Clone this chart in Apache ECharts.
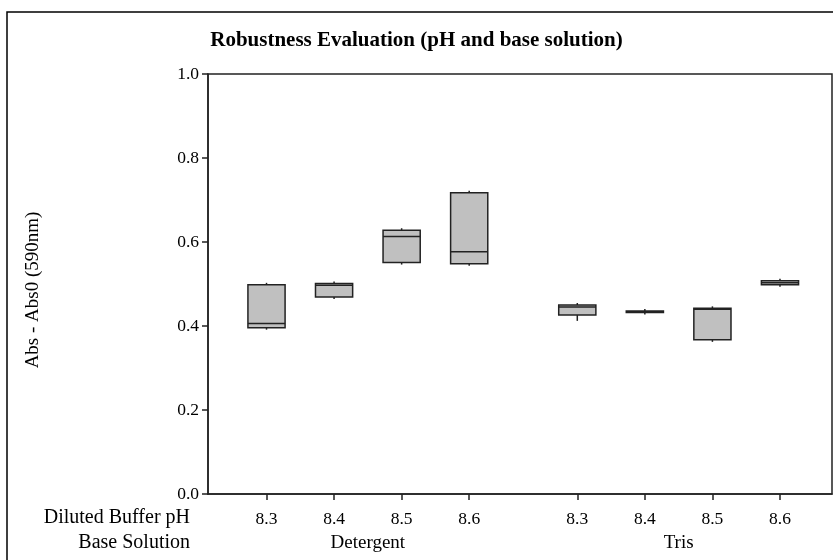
<!DOCTYPE html>
<html>
<head>
<meta charset="utf-8">
<script src="https://cdn.jsdelivr.net/npm/echarts@6/dist/echarts.min.js"></script>
<style>html,body{margin:0;padding:0;background:#fff;}#c{width:833px;height:560px;}</style>
</head>
<body>
<div id="c"></div>
<script>
const categories = ['8.3', '8.4', '8.5', '8.6'];
const groups = ['Detergent', 'Tris'];

const detergentLow    = [0.396, 0.469, 0.551, 0.548];
const detergentQ1     = [0.396, 0.469, 0.551, 0.548];
const detergentMedian = [0.406, 0.497, 0.613, 0.577];
const detergentQ3     = [0.498, 0.501, 0.628, 0.717];
const detergentHigh   = [0.498, 0.501, 0.628, 0.717];

const trisLow    = [0.417, 0.432, 0.367, 0.498];
const trisQ1     = [0.426, 0.432, 0.367, 0.498];
const trisMedian = [0.445, 0.434, 0.440, 0.503];
const trisQ3     = [0.450, 0.436, 0.442, 0.508];
const trisHigh   = [0.450, 0.436, 0.442, 0.508];

const GAP = 0.6;
const FONT = 'Liberation Serif';
const groupData = [
  [detergentLow, detergentQ1, detergentMedian, detergentQ3, detergentHigh],
  [trisLow, trisQ1, trisMedian, trisQ3, trisHigh]
];
const pos = (g, i) => +(g * (categories.length + GAP) + i + 1).toFixed(4);
const positions = [];
const posLabels = [];
const data = [];
groupData.forEach((arrs, g) => {
  categories.forEach((c, i) => {
    const x = pos(g, i);
    positions.push(x);
    posLabels.push(c);
    data.push([x, arrs[0][i], arrs[1][i], arrs[2][i], arrs[3][i], arrs[4][i]]);
  });
});
const groupCenters = groups.map((_, g) => +(g * (categories.length + GAP) + (categories.length + 1) / 2).toFixed(4));

function nearestLabel(v, list, labels) {
  let best = 0, bd = Infinity;
  list.forEach((p, i) => { const d = Math.abs(p - v); if (d < bd) { bd = d; best = i; } });
  return labels[best];
}

const chart = echarts.init(document.getElementById('c'), null, {renderer: 'canvas'});
chart.setOption({
  animation: false,
  backgroundColor: '#fff',
  title: {
    text: 'Robustness Evaluation (pH and base solution)',
    left: 'center', top: 25,
    textStyle: {fontFamily: FONT, fontWeight: 'bold', fontSize: 21, color: '#000'}
  },
  grid: {left: 208, top: 74, right: 1, bottom: 66, show: true, borderColor: '#222', borderWidth: 1.5, backgroundColor: 'transparent'},
  xAxis: [{
    type: 'value', min: 0.134, max: 9.37,
    splitLine: {show: false},
    axisLine: {show: true, lineStyle: {color: '#222', width: 1.5}},
    axisTick: {show: true, length: 6, inside: false, customValues: positions, lineStyle: {color: '#222', width: 1.5}},
    axisLabel: {customValues: positions, margin: 16, fontFamily: FONT, fontSize: 17.5, color: '#000',
      formatter: v => nearestLabel(v, positions, posLabels)}
  }, {
    type: 'value', min: 0.134, max: 9.37, position: 'bottom', offset: 25,
    splitLine: {show: false},
    axisLine: {show: false}, axisTick: {show: false},
    axisLabel: {customValues: groupCenters, margin: 15, fontFamily: FONT, fontSize: 19, color: '#000',
      formatter: v => nearestLabel(v, groupCenters, groups)}
  }],
  yAxis: {
    type: 'value', min: 0, max: 1, interval: 0.2,
    splitLine: {show: false},
    axisLine: {show: true, lineStyle: {color: '#222', width: 1.5}},
    axisTick: {show: true, length: 6, lineStyle: {color: '#222', width: 1.5}},
    axisLabel: {margin: 9, fontFamily: FONT, fontSize: 17.5, color: '#000', formatter: v => v.toFixed(1)}
  },
  graphic: [
    {type: 'rect', shape: {x: 7, y: 12, width: 840, height: 560}, style: {fill: 'none', stroke: '#000', lineWidth: 1.5}, silent: true, z: 100},
    {type: 'text', x: 33, y: 290, rotation: Math.PI / 2,
      style: {text: 'Abs - Abs0 (590nm)', font: '19px "Liberation Serif"', fill: '#000', textAlign: 'center', textVerticalAlign: 'middle'}},
    {type: 'text', x: 190, y: 518, style: {text: 'Diluted Buffer pH', font: '20px "Liberation Serif"', fill: '#000', textAlign: 'right', textVerticalAlign: 'middle'}},
    {type: 'text', x: 190, y: 543, style: {text: 'Base Solution', font: '20px "Liberation Serif"', fill: '#000', textAlign: 'right', textVerticalAlign: 'middle'}}
  ],
  series: [{
    type: 'custom',
    xAxisIndex: 0,
    data: data,
    encode: {x: 0, y: [1, 2, 3, 4, 5]},
    renderItem: function (params, api) {
      const x = api.value(0);
      const w = api.size([0.55, 0])[0];
      const pLow = api.coord([x, api.value(1)]);
      const pQ1 = api.coord([x, api.value(2)]);
      const pMed = api.coord([x, api.value(3)]);
      const pQ3 = api.coord([x, api.value(4)]);
      const pHigh = api.coord([x, api.value(5)]);
      const cx = pQ1[0];
      const stroke = {stroke: '#222', lineWidth: 1.5};
      return {
        type: 'group',
        children: [
          {type: 'line', shape: {x1: cx, y1: pQ3[1], x2: cx, y2: pHigh[1] - 2}, style: stroke},
          {type: 'line', shape: {x1: cx, y1: pQ1[1], x2: cx, y2: pLow[1] + 2}, style: stroke},
          {type: 'rect', shape: {x: cx - w / 2, y: pQ3[1], width: w, height: Math.max(pQ1[1] - pQ3[1], 1)},
            style: {fill: '#c0c0c0', stroke: '#222', lineWidth: 1.5}},
          {type: 'line', shape: {x1: cx - w / 2, y1: pMed[1], x2: cx + w / 2, y2: pMed[1]}, style: stroke}
        ]
      };
    }
  }]
});
</script>
</body>
</html>
